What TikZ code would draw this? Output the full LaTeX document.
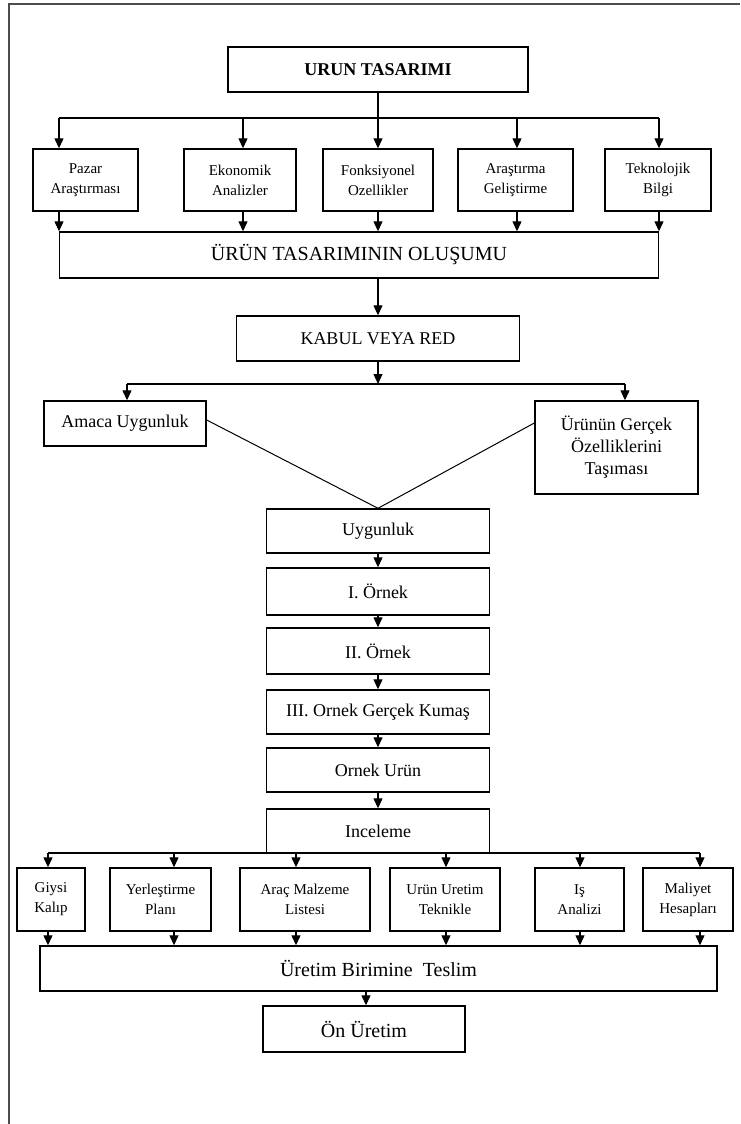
\documentclass[tikz,border=0pt]{standalone}
\usepackage{fontspec}
\setmainfont{Liberation Serif}
\usetikzlibrary{arrows.meta}
\begin{document}
\begin{tikzpicture}[x=1pt,y=-1pt,
  ln/.style={line width=1.2pt},
  arr/.style={ln,-{Triangle[length=10pt,width=9pt]}},
  box/.style={draw,line width=1.4pt,rectangle,inner sep=0pt,align=center},
  big/.style={font=\fontsize{20}{24}\selectfont},
  mid/.style={font=\fontsize{18}{22}\selectfont},
  small/.style={font=\fontsize{15}{20}\selectfont}]
\useasboundingbox[fill=white] (0,0) rectangle (740,1124);
% page frame
\draw[line width=2pt,black!70] (9,1124) -- (9,4) -- (740,4);

% top level
\node[box,mid,minimum width=300pt,minimum height=45pt] (urun) at (378,69.5) {\textbf{URUN TASARIMI}};
\node[box,small,minimum width=105pt,minimum height=62pt] (pazar) at (85.5,180) {Pazar\\Araştırması};
\node[box,small,minimum width=112pt,minimum height=62pt] (ekon) at (240,180) {Ekonomik\\Analizler};
\node[box,small,minimum width=110pt,minimum height=62pt] (fonk) at (378,180) {Fonksiyonel\\Ozellikler};
\node[box,small,minimum width=115pt,minimum height=62pt] (arge) at (515.5,180) {Araştırma\\Geliştirme};
\node[box,small,minimum width=106pt,minimum height=62pt] (tekno) at (658,180) {Teknolojik\\Bilgi};
\node[box,big,minimum width=599pt,minimum height=46pt] (olus) at (359,255) {ÜRÜN TASARIMININ OLUŞUMU};

\coordinate (t1) at (59,118);
\coordinate (t2) at (243,118);
\coordinate (t3) at (378,118);
\coordinate (t4) at (517,118);
\coordinate (t5) at (659,118);
\draw[ln] (urun.south) -- (t3);
\draw[ln] (t1) -- (t5);
\foreach \c/\b in {t1/pazar,t2/ekon,t3/fonk,t4/arge,t5/tekno}{
  \draw[arr] (\c) -- (\c |- \b.north);
  \draw[arr] (\c |- \b.south) -- (\c |- olus.north);
}

% decision
\node[box,mid,minimum width=283pt,minimum height=45pt] (kabul) at (378,338.5) {KABUL VEYA RED};
\draw[arr] (kabul.north |- olus.south) -- (kabul.north);
\coordinate (m) at (378,384);
\coordinate (m1) at (127,384);
\coordinate (m2) at (625,384);
\node[box,mid,minimum width=162pt,minimum height=45pt] (amaca) at (125,423.5) {Amaca Uygunluk};
\node[box,mid,minimum width=163pt,minimum height=93pt] (gercek) at (616.5,447.5) {Ürünün Gerçek\\Özelliklerini\\Taşıması};
\draw[arr] (kabul.south) -- (m);
\draw[ln] (m1) -- (m2);
\draw[arr] (m1) -- (m1 |- amaca.north);
\draw[arr] (m2) -- (m2 |- gercek.north);

% sample chain
\node[box,mid,minimum width=223pt,minimum height=44pt] (uyg) at (378,531) {Uygunluk};
\node[box,mid,minimum width=223pt,minimum height=47pt] (ornek1) at (378,591.5) {I. Örnek};
\node[box,mid,minimum width=223pt,minimum height=46pt] (ornek2) at (378,651) {II. Örnek};
\node[box,mid,minimum width=223pt,minimum height=44pt] (ornek3) at (378,712) {III. Ornek Gerçek Kumaş};
\node[box,mid,minimum width=223pt,minimum height=44pt] (ornekurun) at (378,770) {Ornek Urün};
\node[box,mid,minimum width=223pt,minimum height=44pt] (incele) at (378,831) {Inceleme};
\draw[line width=1pt] ([yshift=3.5pt]amaca.east) -- (uyg.north);
\draw[line width=1pt] ([yshift=24.5pt]gercek.west) -- (uyg.north);
\draw[arr] (uyg) -- (ornek1);
\draw[arr] (ornek1) -- (ornek2);
\draw[arr] (ornek2) -- (ornek3);
\draw[arr] (ornek3) -- (ornekurun);
\draw[arr] (ornekurun) -- (incele);

% production documents
\node[box,small,minimum width=68pt,minimum height=63pt] (giysi) at (51,899.5) {Giysi\\Kalıp};
\node[box,small,minimum width=101pt,minimum height=63pt] (yerl) at (160.5,899.5) {Yerleştirme\\Planı};
\node[box,small,minimum width=130pt,minimum height=63pt] (arac) at (305,899.5) {Araç Malzeme\\Listesi};
\node[box,small,minimum width=110pt,minimum height=63pt] (teknik) at (445,899.5) {Urün Uretim\\Teknikle};
\node[box,small,minimum width=89pt,minimum height=63pt] (is) at (579.5,899.5) {Iş\\Analizi};
\node[box,small,minimum width=90pt,minimum height=63pt] (maliyet) at (688,899.5) {Maliyet\\Hesapları};
\node[box,big,minimum width=677pt,minimum height=45pt] (teslim) at (378.5,968.5) {Üretim Birimine\ \ Teslim};
\node[box,big,minimum width=202pt,minimum height=46pt] (on) at (364,1029) {Ön Üretim};

\coordinate (b1) at (48,853);
\coordinate (b2) at (174,853);
\coordinate (b3) at (296,853);
\coordinate (b4) at (446,853);
\coordinate (b5) at (580,853);
\coordinate (b6) at (700,853);
\draw[ln] (b1) -- (b6);
\foreach \c/\b in {b1/giysi,b2/yerl,b3/arac,b4/teknik,b5/is,b6/maliyet}{
  \draw[arr] (\c) -- (\c |- \b.north);
  \draw[arr] (\c |- \b.south) -- (\c |- teslim.north);
}
\coordinate (o) at (366,0);
\draw[arr] (o |- teslim.south) -- (o |- on.north);
\end{tikzpicture}
\end{document}
